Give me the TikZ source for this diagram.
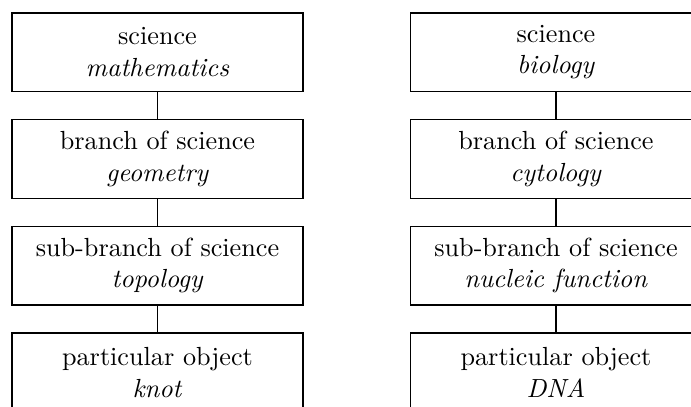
\documentclass[tikz,border=0pt]{standalone}
\begin{document}
\begin{tikzpicture}[x=0.3817pt,y=-0.3817pt,
  box/.style={draw,line width=0.5pt,minimum width=111.1pt,minimum height=30pt,inner sep=0pt,align=center},
  link/.style={line width=0.5pt}]
\useasboundingbox (0,0) rectangle (691,407);
\clip (0,0) rectangle (691,407);
\node[box] (a1) at (157.5,52.25) {science\\\textit{mathematics}};
\node[box] (a2) at (157.5,158.95) {branch of science\\\textit{geometry}};
\node[box] (a3) at (157.5,265.65) {sub-branch of science\\\textit{topology}};
\node[box] (a4) at (157.5,372.35) {particular object\\\textit{knot}};
\node[box] (b1) at (556,52.25) {science\\\textit{biology}};
\node[box] (b2) at (556,158.95) {branch of science\\\textit{cytology}};
\node[box] (b3) at (556,265.65) {sub-branch of science\\\textit{nucleic function}};
\node[box] (b4) at (556,372.35) {particular object\\\textit{DNA}};
\draw[link] (a1) -- (a2);
\draw[link] (a2) -- (a3);
\draw[link] (a3) -- (a4);
\draw[link] (b1) -- (b2);
\draw[link] (b2) -- (b3);
\draw[link] (b3) -- (b4);
\end{tikzpicture}
\end{document}
